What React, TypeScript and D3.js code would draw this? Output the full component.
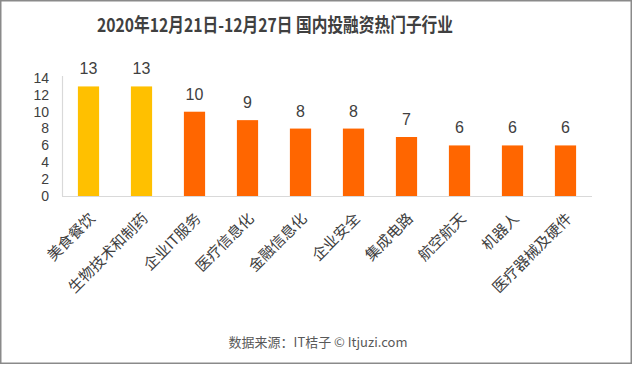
import React, { useEffect, useRef } from "react";
import * as d3 from "d3";

const categories = [
  "美食餐饮",
  "生物技术和制药",
  "企业IT服务",
  "医疗信息化",
  "金融信息化",
  "企业安全",
  "集成电路",
  "航空航天",
  "机器人",
  "医疗器械及硬件",
];
const values = [13, 13, 10, 9, 8, 8, 7, 6, 6, 6];
const yTicks = [0, 2, 4, 6, 8, 10, 12, 14];
const highlighted = ["美食餐饮", "生物技术和制药"];

const W = 634;
const H = 366;
const FONT = "'Noto Sans CJK SC', 'Noto Sans', sans-serif";
const NUM_FONT = "'Liberation Sans', 'Open Sans', sans-serif";

export default function App() {
  const ref = useRef<SVGSVGElement>(null);

  useEffect(() => {
    const svg = d3.select(ref.current);
    svg.selectAll("*").remove();

    svg
      .append("rect")
      .attr("x", 0.75)
      .attr("y", 0.75)
      .attr("width", W - 3.5)
      .attr("height", H - 3.5)
      .attr("fill", "#fff")
      .attr("stroke", "#8a8a8a")
      .attr("stroke-width", 1.5);

    const x = d3
      .scaleBand<string>()
      .domain(categories)
      .range([62, 592])
      .paddingInner(0.6)
      .paddingOuter(0.3);
    const y = d3.scaleLinear().domain([0, 14]).range([196, 78]);

    svg
      .append("text")
      .attr("x", 97)
      .attr("y", 32)
      .attr("font-family", FONT)
      .attr("font-size", 19)
      .attr("font-weight", "bold")
      .attr("fill", "#404040")
      .attr("textLength", 356)
      .attr("lengthAdjust", "spacingAndGlyphs")
      .text("2020年12月21日-12月27日 国内投融资热门子行业");

    // y axis ticks
    svg
      .append("g")
      .selectAll("text")
      .data(yTicks)
      .join("text")
      .attr("x", 49)
      .attr("y", (d) => y(d))
      .attr("dy", "0.35em")
      .attr("text-anchor", "end")
      .attr("font-family", NUM_FONT)
      .attr("font-size", 14)
      .attr("fill", "#404040")
      .text((d) => d);

    svg
      .append("line")
      .attr("x1", 62.5)
      .attr("x2", 62.5)
      .attr("y1", y(14) - 2)
      .attr("y2", y(0))
      .attr("stroke", "#d9d9d9")
      .attr("stroke-width", 1.2);

    svg
      .append("g")
      .selectAll("rect")
      .data(categories)
      .join("rect")
      .attr("x", (d) => x(d)!)
      .attr("width", x.bandwidth())
      .attr("y", (d, i) => y(values[i]))
      .attr("height", (d, i) => y(0) - y(values[i]))
      .attr("fill", (d) => (highlighted.includes(d) ? "#ffc000" : "#ff6600"));

    svg
      .append("line")
      .attr("x1", 62)
      .attr("x2", 592)
      .attr("y1", y(0) + 0.5)
      .attr("y2", y(0) + 0.5)
      .attr("stroke", "#d9d9d9")
      .attr("stroke-width", 1.2);

    // value labels
    svg
      .append("g")
      .selectAll("text")
      .data(categories)
      .join("text")
      .attr("x", (d) => x(d)! + x.bandwidth() / 2)
      .attr("y", (d, i) => y(values[i]) - 12)
      .attr("text-anchor", "middle")
      .attr("font-family", NUM_FONT)
      .attr("font-size", 16)
      .attr("fill", "#404040")
      .text((d, i) => values[i]);

    // category labels
    svg
      .append("g")
      .selectAll("text")
      .data(categories)
      .join("text")
      .attr(
        "transform",
        (d) => `translate(${x(d)! + x.bandwidth() / 2},${y(0) + 16}) rotate(-45)`
      )
      .attr("text-anchor", "end")
      .attr("dy", "0.7em")
      .attr("font-family", FONT)
      .attr("font-size", 15)
      .attr("fill", "#404040")
      .text((d) => d);

    svg
      .append("text")
      .attr("x", 318)
      .attr("y", 347)
      .attr("text-anchor", "middle")
      .attr("font-family", FONT)
      .attr("font-size", 13)
      .attr("fill", "#595959")
      .text("数据来源：IT桔子  ©  Itjuzi.com");
  }, []);

  return (
    <div style={{ position: "absolute", left: 0, top: 0 }}>
      <svg ref={ref} width={W} height={H} style={{ display: "block" }} />
    </div>
  );
}
